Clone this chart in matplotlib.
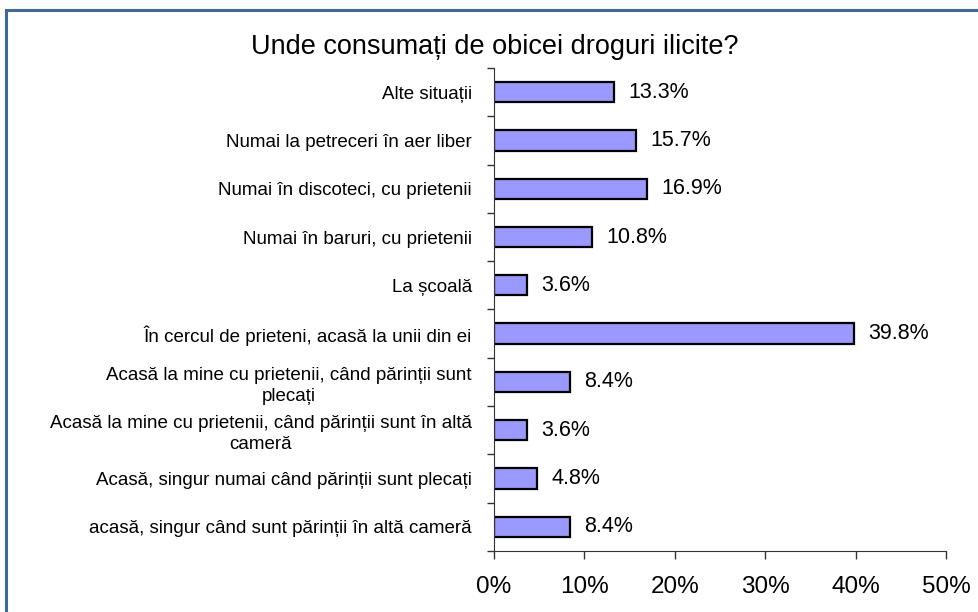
import matplotlib.pyplot as plt
from matplotlib.patches import Rectangle
from matplotlib.ticker import FuncFormatter, MultipleLocator, FixedLocator

# data, bottom to top
categories = [
    'acasă, singur când sunt părinții în altă cameră',
    'Acasă, singur numai când părinții sunt plecați',
    'Acasă la mine cu prietenii, când părinții sunt în altă\ncameră',
    'Acasă la mine cu prietenii, când părinții sunt\nplecați',
    'În cercul de prieteni, acasă la unii din ei',
    'La școală',
    'Numai în baruri, cu prietenii',
    'Numai în discoteci, cu prietenii',
    'Numai la petreceri în aer liber',
    'Alte situații',
]
values = [8.4, 4.8, 3.6, 8.4, 39.8, 3.6, 10.8, 16.9, 15.7, 13.3]
x_ticks = [0, 10, 20, 30, 40, 50]

plt.rcParams['font.family'] = ['Liberation Sans', 'DejaVu Sans']

fig = plt.figure(figsize=(9.79, 6.12), dpi=100)
ax = fig.add_axes([0.5046, 0.0997, 0.4617, 0.7892])

pos = list(range(len(categories)))
ax.barh(pos, values, height=0.42, color='#9999FF', edgecolor='black', linewidth=1.6)

for p, v in zip(pos, values):
    ax.text(v + 1.6, p, f'{v:.1f}%', va='center', ha='left', fontsize=15.5)

ax.set_xlim(0, 50)
ax.set_ylim(-0.5, len(categories) - 0.5)
ax.xaxis.set_major_locator(FixedLocator(x_ticks))
ax.xaxis.set_major_formatter(FuncFormatter(lambda x, _: f'{x:.0f}%'))
ax.tick_params(axis='x', labelsize=17.5, length=6, width=1, pad=12, color='#333333')

ax.set_yticks(pos)
ax.set_yticklabels(categories, fontsize=13.5, multialignment='center', linespacing=1.3)
ax.tick_params(axis='y', which='major', length=0, pad=16)
ax.yaxis.set_minor_locator(MultipleLocator(1, offset=0.5))
ax.tick_params(axis='y', which='minor', length=5, width=1, color='#333333')

for s in ['top', 'right']:
    ax.spines[s].set_visible(False)
ax.spines['left'].set_color('#333333')
ax.spines['bottom'].set_color('#333333')

fig.text(0.5056, 0.924, 'Unde consumați de obicei droguri ilicite?',
         ha='center', va='center', fontsize=19.5)

# outer frame
fig.patches.append(Rectangle((6 / 979, -0.05), 1.1, 1 - 10 / 612 + 0.05,
                             transform=fig.transFigure, fill=False,
                             edgecolor='#3C6A9E', linewidth=2.2))

fig.savefig('out.png', dpi=100)
